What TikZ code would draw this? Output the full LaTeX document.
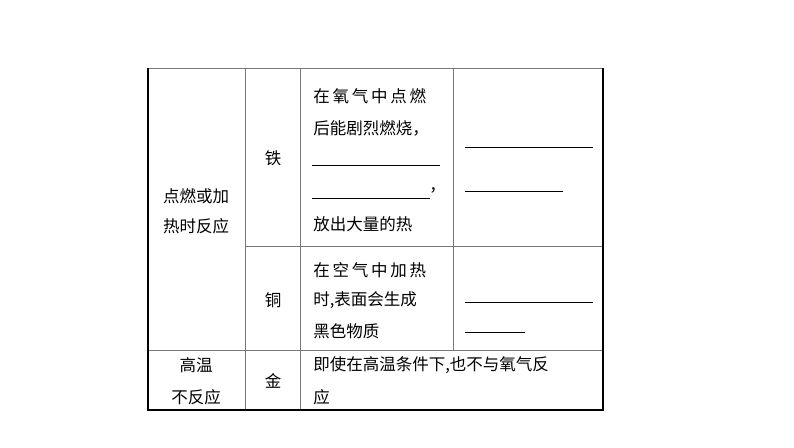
\documentclass[tikz,border=0pt]{standalone}
\usepackage{fontspec}
\newfontfamily\cjk{Noto Sans CJK SC}
\tikzset{every picture/.style={line width=0.75pt}}
\tikzset{
	cell text/.style={font=\cjk\fontsize{16.5}{18}\selectfont, inner sep=0pt},
	left text/.style={cell text, anchor=west},
	inner rule/.style={draw={rgb, 255:red, 120; green, 120; blue, 120 }, line width=1pt},
	outer rule/.style={draw=black, line width=1.8pt},
	blank/.style={line width=0.9pt}}
\begin{document}
\begin{tikzpicture}[x=1pt,y=1pt,yscale=-1,xscale=1]
	\useasboundingbox (0,0) rectangle (794,447);

	%Shape: Table rules
	\draw [inner rule] (148,68) -- (603,68) ;
	\draw [inner rule] (245,68) -- (245,410) ;
	\draw [inner rule] (300,68) -- (300,410) ;
	\draw [inner rule] (453,68) -- (453,350) ;
	\draw [inner rule] (245,246) -- (603,246) ;
	\draw [inner rule] (148,350) -- (603,350) ;
	\draw [outer rule] (148,68) -- (148,410) -- (603,410) -- (603,68) ;

	%Straight Lines: blanks
	\draw [blank] (312,165) -- (440,165) ;
	\draw [blank] (312,198) -- (430,198) ;
	\draw [blank] (465,147) -- (593,147) ;
	\draw [blank] (465,191) -- (563,191) ;
	\draw [blank] (465,302) -- (593,302) ;
	\draw [blank] (465,332) -- (525,332) ;

	% Text Node
	\node [cell text] (kindA1) at (196,196) {点燃或加};
	\node [cell text] (kindA2) at (196,226) {热时反应};
	\node [cell text] (iron) at (273,158) {铁};
	\node [cell text] (copper) at (273,300) {铜};
	\node [left text] (ironA) at (313,96) {在\,氧\,气\,中\,点\,燃};
	\node [left text] (ironB) at (313,128) {后能剧烈燃烧，};
	\node [left text] (ironC) at (429,190) {，};
	\node [left text] (ironD) at (313,224) {放出大量的热};
	\node [left text] (copperA) at (313,270) {在\,空\,气\,中\,加\,热};
	\node [left text] (copperB) at (313,300) {时,表面会生成};
	\node [left text] (copperC) at (313,331) {黑色物质};
	\node [cell text] (kindB1) at (196,365) {高温};
	\node [cell text] (kindB2) at (196,397) {不反应};
	\node [cell text] (gold) at (273,381) {金};
	\node [left text] (goldA) at (313,365) {即使在高温条件下,也不与氧气反};
	\node [left text] (goldB) at (313,397) {应};
\end{tikzpicture}
\end{document}
